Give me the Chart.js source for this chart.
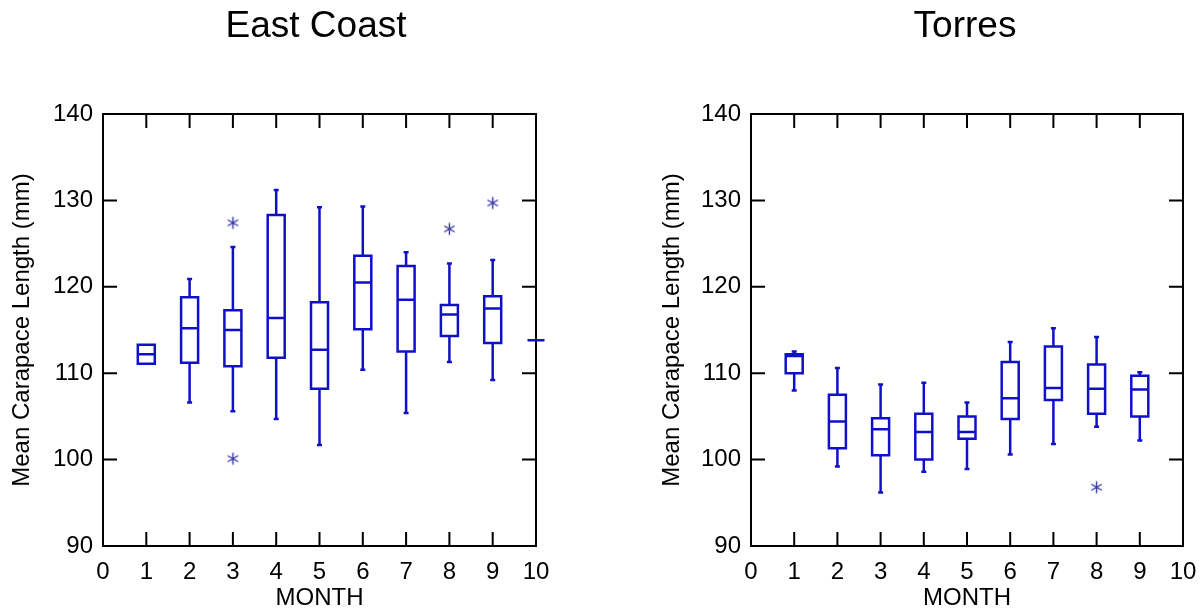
<!DOCTYPE html>
<html>
<head>
<meta charset="utf-8">
<script src="https://cdn.jsdelivr.net/npm/chart.js@4.4.1/dist/chart.umd.min.js"></script>
<style>
  html, body { margin: 0; padding: 0; background: #fff; overflow: hidden; width: 1200px; height: 612px; }
  canvas { position: absolute; top: 0; }
  #east { left: 0; }
  #torres { left: 650px; }
</style>
</head>
<body>
<canvas id="east" width="632" height="612"></canvas>
<canvas id="torres" width="630" height="612"></canvas>
<script>
// ---- East Coast: monthly distribution of mean carapace length (mm) ----
const ecMonths   = [1, 2, 3, 4, 5, 6, 7, 8, 9, 10];
const ecLow      = [null, 106.6, 105.6, 104.7, 101.7, 110.4, 105.4, 111.3, 109.2, null];
const ecQ1       = [111.1, 111.2, 110.8, 111.8, 108.2, 115.1, 112.5, 114.3, 113.5, 113.8];
const ecMedian   = [112.2, 115.2, 115.0, 116.4, 112.7, 120.5, 118.5, 116.8, 117.5, 113.8];
const ecQ3       = [113.3, 118.8, 117.3, 128.3, 118.2, 123.6, 122.4, 117.9, 118.9, 113.8];
const ecHigh     = [null, 120.9, 124.6, 131.2, 129.2, 129.3, 124.0, 122.7, 123.1, null];
const ecOutlierMonths = [3, 3, 8, 9];
const ecOutlierValues = [127.4, 100.1, 126.7, 129.7];

// ---- Torres ----
const trMonths   = [1, 2, 3, 4, 5, 6, 7, 8, 9];
const trLow      = [108.0, 99.2, 96.2, 98.6, 98.9, 100.6, 101.8, 103.8, 102.2];
const trQ1       = [110.0, 101.3, 100.5, 100.0, 102.4, 104.7, 106.9, 105.3, 105.0];
const trMedian   = [112.0, 104.4, 103.5, 103.2, 103.2, 107.1, 108.3, 108.2, 108.1];
const trQ3       = [112.2, 107.5, 104.8, 105.3, 105.0, 111.3, 113.1, 111.0, 109.7];
const trHigh     = [112.5, 110.6, 108.7, 108.9, 106.6, 113.6, 115.2, 114.2, 110.1];
const trOutlierMonths = [8];
const trOutlierValues = [96.8];

// ---- axis ranges / labels ----
const monthTicks = { min: 0, max: 10, step: 1 };
const lengthTicks = { min: 90, max: 140, step: 10 };
const xTitle = 'MONTH';
const yTitle = 'Mean Carapace Length (mm)';

const FONT = "'Liberation Sans', Arial, Helvetica, sans-serif";
const BOX_BLUE = '#1010c8';
const STAR_BLUE = '#3535a5';

// Six-armed asterisk used as the outlier marker
function asteriskGlyph(color, r) {
  const s = Math.ceil(2 * r + 3);
  const c = document.createElement('canvas');
  c.width = s; c.height = s;
  const g = c.getContext('2d');
  g.strokeStyle = color;
  g.lineWidth = 1.4;
  g.translate(s / 2, s / 2);
  g.beginPath();
  for (let k = 0; k < 3; k++) {
    const a = Math.PI / 2 + k * Math.PI / 3;
    g.moveTo(Math.cos(a) * r, Math.sin(a) * r);
    g.lineTo(-Math.cos(a) * r, -Math.sin(a) * r);
  }
  g.stroke();
  return c;
}
const starMarker = asteriskGlyph(STAR_BLUE, 6);

// Closed frame with inward-pointing tick marks on all four sides
const framePlugin = {
  id: 'frame',
  beforeDatasetsDraw(chart, args, o) {
    const { ctx, chartArea: a } = chart;
    const x = chart.scales.x, y = chart.scales.y;
    ctx.save();
    ctx.strokeStyle = '#000';
    ctx.lineWidth = o.lineWidth;
    ctx.beginPath();
    x.ticks.forEach(t => {
      if (t.value <= x.min || t.value >= x.max) return;
      const px = x.getPixelForValue(t.value);
      ctx.moveTo(px, a.bottom); ctx.lineTo(px, a.bottom - o.tickLength);
      ctx.moveTo(px, a.top);    ctx.lineTo(px, a.top + o.tickLength);
    });
    y.ticks.forEach(t => {
      if (t.value <= y.min || t.value >= y.max) return;
      const py = y.getPixelForValue(t.value);
      ctx.moveTo(a.left, py);  ctx.lineTo(a.left + o.tickLength, py);
      ctx.moveTo(a.right, py); ctx.lineTo(a.right - o.tickLength, py);
    });
    ctx.stroke();
    ctx.strokeRect(a.left, a.top, a.right - a.left, a.bottom - a.top);
    ctx.restore();
  }
};

// Box-and-whisker marks, positioned through the chart's x and y scales
const boxPlotPlugin = {
  id: 'boxPlot',
  afterDatasetsDraw(chart, args, o) {
    if (!o.months) return;
    const { ctx } = chart;
    const x = chart.scales.x, y = chart.scales.y;
    const hw = o.boxWidth / 2, cw = o.capWidth / 2;
    ctx.save();
    ctx.strokeStyle = o.color;
    ctx.lineWidth = o.lineWidth;
    o.months.forEach((m, i) => {
      const cx = x.getPixelForValue(m);
      const yq1 = y.getPixelForValue(o.q1[i]);
      const yq3 = y.getPixelForValue(o.q3[i]);
      const ym = y.getPixelForValue(o.median[i]);
      ctx.beginPath();
      if (o.high[i] != null) {
        const yh = y.getPixelForValue(o.high[i]);
        ctx.moveTo(cx, yq3); ctx.lineTo(cx, yh);
        ctx.moveTo(cx - cw, yh); ctx.lineTo(cx + cw, yh);
      }
      if (o.low[i] != null) {
        const yl = y.getPixelForValue(o.low[i]);
        ctx.moveTo(cx, yq1); ctx.lineTo(cx, yl);
        ctx.moveTo(cx - cw, yl); ctx.lineTo(cx + cw, yl);
      }
      ctx.rect(cx - hw, yq3, 2 * hw, yq1 - yq3);
      ctx.moveTo(cx - hw, ym); ctx.lineTo(cx + hw, ym);
      ctx.stroke();
    });
    ctx.restore();
  }
};

function makePanel(canvasId, title, leftWidth, rightWidth, box, outMonths, outValues) {
  return new Chart(document.getElementById(canvasId), {
    type: 'scatter',
    data: {
      datasets: [{
        label: 'outliers',
        data: outMonths.map((m, i) => ({ x: m, y: outValues[i] })),
        pointStyle: starMarker,
        pointRadius: 6,
        pointHoverRadius: 6
      }]
    },
    options: {
      responsive: false,
      animation: false,
      events: [],
      layout: { padding: 0 },
      scales: {
        x: {
          type: 'linear',
          position: 'bottom',
          min: monthTicks.min, max: monthTicks.max,
          ticks: { stepSize: monthTicks.step, color: '#000', font: { family: FONT, size: 24 }, padding: 12, maxRotation: 0 },
          grid: { display: false, drawTicks: false },
          border: { display: false },
          title: { display: true, text: xTitle, color: '#000', font: { family: FONT, size: 24, lineHeight: 1.1 }, padding: { top: 0, bottom: 0 } },
          afterFit: s => { s.height = 66; }
        },
        y: {
          type: 'linear',
          position: 'left',
          min: lengthTicks.min, max: lengthTicks.max,
          ticks: { stepSize: lengthTicks.step, color: '#000', font: { family: FONT, size: 24 }, padding: 10 },
          grid: { display: false, drawTicks: false },
          border: { display: false },
          title: { display: true, text: yTitle, color: '#000', font: { family: FONT, size: 24 }, padding: { top: 8, bottom: 0 } },
          afterFit: s => { s.width = leftWidth; }
        },
        yRight: {
          type: 'linear',
          position: 'right',
          display: true,
          ticks: { display: false },
          grid: { display: false, drawTicks: false },
          border: { display: false },
          afterFit: s => { s.width = rightWidth; }
        }
      },
      plugins: {
        legend: { display: false },
        tooltip: { enabled: false },
        title: {
          display: true,
          text: title,
          color: '#000',
          font: { family: FONT, size: 37, weight: 'normal', lineHeight: 1.2 },
          padding: { top: 5, bottom: 64.6 }
        },
        frame: { lineWidth: 2, tickLength: 14 },
        boxPlot: Object.assign({ color: BOX_BLUE, lineWidth: 2.5, boxWidth: 17, capWidth: 5 }, box)
      }
    },
    plugins: [framePlugin, boxPlotPlugin]
  });
}

makePanel('east', 'East Coast', 103, 96,
  { months: ecMonths, low: ecLow, q1: ecQ1, median: ecMedian, q3: ecQ3, high: ecHigh },
  ecOutlierMonths, ecOutlierValues);

makePanel('torres', 'Torres', 101, 97,
  { months: trMonths, low: trLow, q1: trQ1, median: trMedian, q3: trQ3, high: trHigh },
  trOutlierMonths, trOutlierValues);
</script>
</body>
</html>
